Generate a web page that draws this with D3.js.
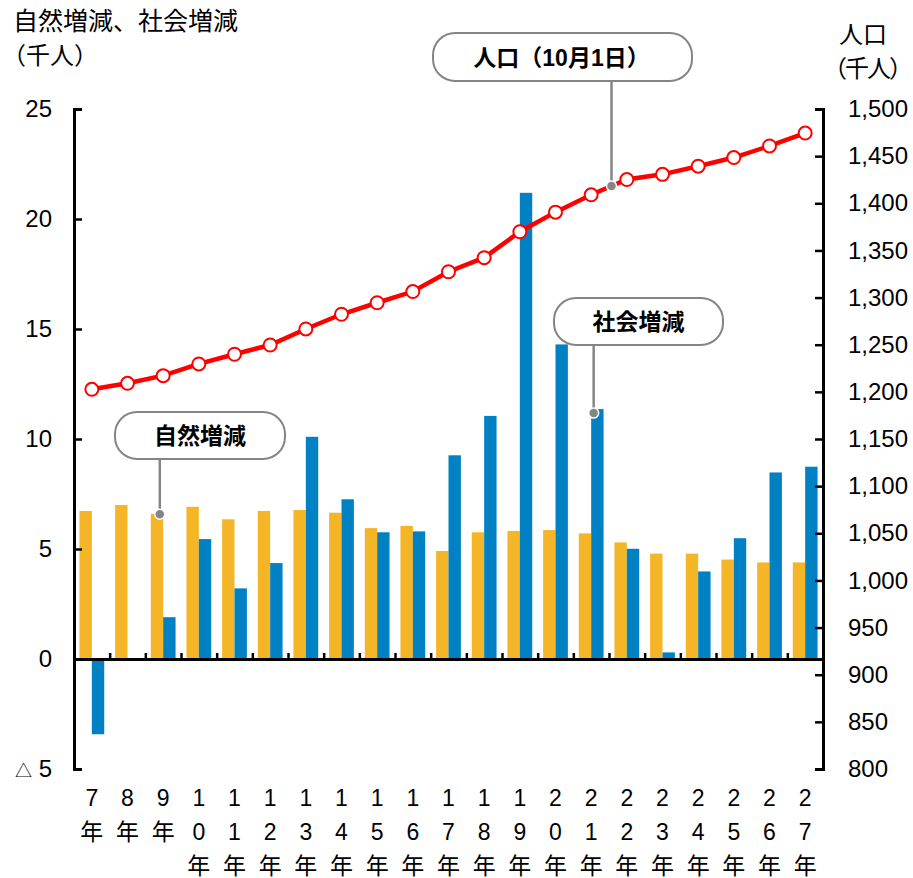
<!DOCTYPE html>
<html>
<head>
<meta http-equiv="Content-Type" content="text/html;charset=utf-8"/>
<title>自然増減・社会増減と人口</title>
<script src="https://d3js.org/d3.v7.min.js"></script>
<style>
  body { margin: 0; background: #fff; }
  svg text { font-family: "Liberation Sans", Arial, "Noto Sans CJK JP", sans-serif; fill: #000; }
</style>
</head>
<body>
<svg id="chart" width="913" height="878"></svg>
<script>
// data (千人)
const years = ['7','8','9','10','11','12','13','14','15','16','17','18','19','20','21','22','23','24','25','26','27'];
const natural = [6.73, 7.0, 6.6, 6.92, 6.35, 6.73, 6.77, 6.65, 5.95, 6.05, 4.91, 5.76, 5.82, 5.86, 5.71, 5.3, 4.79, 4.79, 4.52, 4.39, 4.39];
const social = [-3.42, 0, 1.9, 5.45, 3.21, 4.36, 10.1, 7.26, 5.76, 5.8, 9.26, 11.05, 21.19, 14.3, 11.36, 5.01, 0.3, 3.98, 5.49, 8.48, 8.74];
const population = [1202.7, 1209.1, 1217.2, 1229.6, 1239.9, 1249.7, 1266.7, 1282.3, 1294.5, 1306.4, 1327.4, 1342.3, 1369.8, 1390.6, 1409.0, 1425.2, 1430.7, 1439.3, 1448.5, 1460.8, 1474.5];
const leftTicks = [-5, 0, 5, 10, 15, 20, 25];
const rightTicks = [800, 850, 900, 950, 1000, 1050, 1100, 1150, 1200, 1250, 1300, 1350, 1400, 1450, 1500];

const svg = d3.select('#chart');
const plotLeft = 74, plotRight = 823, plotTop = 109, plotBottom = 769;

const x = d3.scaleBand().domain(years).range([plotLeft, plotRight]).padding(0);
const xSub = d3.scaleBand().domain(['natural', 'social']).range([0, x.bandwidth()]).paddingInner(0).paddingOuter(0.44);
const xIdx = d3.scaleLinear().domain([0, years.length]).range([plotLeft, plotRight]);
const yL = d3.scaleLinear().domain([-5, 25]).range([plotBottom, plotTop]);
const yR = d3.scaleLinear().domain([800, 1500]).range([plotBottom, plotTop]);

const orange = '#F4B626', blue = '#0081C3', red = '#FF0000', grey = '#858585';

// bars
const groups = svg.append('g').selectAll('g')
  .data(years).enter().append('g')
  .attr('transform', d => 'translate(' + x(d) + ',0)');

groups.append('rect')
  .attr('x', xSub('natural'))
  .attr('width', xSub.bandwidth())
  .attr('y', (d, i) => yL(Math.max(0, natural[i])))
  .attr('height', (d, i) => Math.abs(yL(natural[i]) - yL(0)))
  .attr('fill', orange);

groups.append('rect')
  .attr('x', xSub('social'))
  .attr('width', xSub.bandwidth())
  .attr('y', (d, i) => yL(Math.max(0, social[i])))
  .attr('height', (d, i) => Math.abs(yL(social[i]) - yL(0)))
  .attr('fill', blue);

// axes
const axisL = svg.append('g')
  .attr('transform', 'translate(' + plotLeft + ',0)')
  .call(d3.axisLeft(yL).tickValues(leftTicks).tickSizeInner(-8).tickSizeOuter(-8).tickPadding(22)
    .tickFormat(d => d < 0 ? '' : d));
axisL.attr('font-family', null).attr('font-size', null);
axisL.selectAll('text').style('font-size', '24px');
axisL.select('.domain').attr('stroke-width', 3);
axisL.selectAll('.tick line').attr('stroke-width', 2.5);
axisL.selectAll('.tick').filter(d => d < 0).select('text')
  .call(t => {
    t.append('tspan').text('△').style('font-size', '17px').style('font-family', 'Noto Sans CJK JP');
    t.append('tspan').text(' ' + Math.abs(leftTicks[0]));
  });

const axisR = svg.append('g')
  .attr('transform', 'translate(' + plotRight + ',0)')
  .call(d3.axisRight(yR).tickValues(rightTicks).tickSizeInner(-8).tickSizeOuter(-8).tickPadding(25)
    .tickFormat(d3.format(',')));
axisR.attr('font-family', null).attr('font-size', null);
axisR.selectAll('text').style('font-size', '24px');
axisR.select('.domain').attr('stroke-width', 3);
axisR.selectAll('.tick line').attr('stroke-width', 2.5);

const axisX = svg.append('g')
  .attr('transform', 'translate(0,' + yL(0) + ')')
  .call(d3.axisTop(xIdx).tickValues(d3.range(1, years.length)).tickSizeInner(6).tickSizeOuter(0).tickFormat(''));
axisX.select('.domain').attr('stroke-width', 3);
axisX.selectAll('.tick line').attr('stroke-width', 2.5);

// x labels, stacked vertically
const rowY = [806, 840, 874];
svg.append('g').selectAll('text')
  .data(years).enter().append('text')
  .attr('text-anchor', 'middle')
  .style('font-size', '23px')
  .each(function(d) {
    const chars = d.split('').concat(['年']);
    const t = d3.select(this);
    chars.forEach((c, j) => {
      t.append('tspan').attr('x', x(d) + x.bandwidth() / 2).attr('y', rowY[j]).text(c);
    });
  });

// population line
const cx = (d, i) => x(years[i]) + x.bandwidth() / 2;
const line = d3.line().x(cx).y(d => yR(d));
svg.append('path')
  .datum(population)
  .attr('d', line)
  .attr('fill', 'none')
  .attr('stroke', red)
  .attr('stroke-width', 4.5);

svg.append('g').selectAll('circle')
  .data(population).enter().append('circle')
  .attr('cx', cx)
  .attr('cy', d => yR(d))
  .attr('r', 6.5)
  .attr('fill', '#fff')
  .attr('stroke', red)
  .attr('stroke-width', 2);

// titles
const cjk = 'Noto Sans CJK JP';
svg.append('text').attr('x', 13).attr('y', 30).style('font-size', '25px').style('font-family', cjk).text('自然増減、社会増減');
svg.append('text').attr('x', 2).attr('y', 64).style('font-size', '24px').style('font-family', cjk).text('（千人）');
svg.append('text').attr('x', 863).attr('y', 43).attr('text-anchor', 'middle').style('font-size', '24px').style('font-family', cjk).text('人口');
svg.append('text').attr('x', 911).attr('y', 77).attr('text-anchor', 'end').style('font-size', '24px').style('font-family', cjk)
  .style('letter-spacing', '-2px').text('（千人）');

// callouts
function callout(box, label, to) {
  const g = svg.append('g');
  g.append('line')
    .attr('x1', to[0]).attr('y1', box.y + box.h)
    .attr('x2', to[0]).attr('y2', to[1])
    .attr('stroke', grey).attr('stroke-width', 2.5);
  g.append('rect')
    .attr('x', box.x).attr('y', box.y).attr('width', box.w).attr('height', box.h)
    .attr('rx', 22).attr('ry', 22)
    .attr('fill', '#fff').attr('stroke', grey).attr('stroke-width', 2);
  g.append('text')
    .attr('x', box.x + box.w / 2 + (box.dx || 0)).attr('y', box.y + box.h / 2 + 8.5)
    .attr('text-anchor', 'middle')
    .style('font-size', '23px').style('font-weight', 'bold')
    .text(label);
  g.append('circle')
    .attr('cx', to[0]).attr('cy', to[1]).attr('r', 5)
    .attr('fill', grey).attr('stroke', '#fff').attr('stroke-width', 1.5);
}

const i9 = years.indexOf('9');
callout({x: 115, y: 412, w: 170, h: 47}, '自然増減',
  [x('9') + xSub('natural') + 9, yL(natural[i9]) + 0.5]);

const i21 = years.indexOf('21');
callout({x: 554, y: 298, w: 169, h: 47}, '社会増減',
  [x('21') + xSub('social') + 2.5, yL(social[i21]) + 4]);

const i22 = years.indexOf('22');
const tt = 0.57;
callout({x: 433, y: 33, w: 259, h: 48, dx: -1}, '人口（10月1日）',
  [cx(0, i21) + tt * (cx(0, i22) - cx(0, i21)),
   yR(population[i21]) + tt * (yR(population[i22]) - yR(population[i21]))]);
</script>
</body>
</html>
